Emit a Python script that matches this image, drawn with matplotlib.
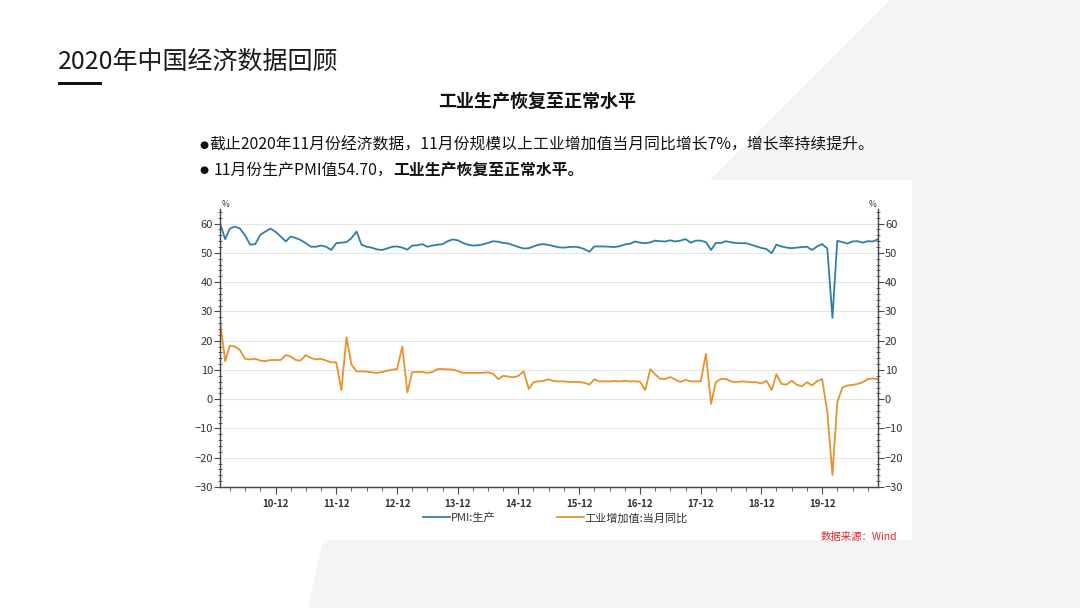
import matplotlib
matplotlib.use('Agg')
import matplotlib.pyplot as plt
import matplotlib.dates as mdates
from matplotlib.ticker import MultipleLocator
from matplotlib.patches import Polygon, Rectangle
import pandas as pd

plt.rcParams['font.family'] = ['Noto Sans CJK SC', 'DejaVu Sans']

# monthly data, 2010-01 .. 2020-11
months = pd.date_range('2010-01-01', '2020-11-01', freq='MS')

pmi_prod = [
    60.2, 54.7, 58.3, 59.0, 58.3, 56.0, 52.8, 53.0, 56.2, 57.3, 58.3, 57.2,
    55.6, 53.9, 55.6, 55.1, 54.4, 53.3, 52.1, 52.1, 52.5, 52.1, 51.0, 53.3,
    53.5, 53.7, 55.0, 57.3, 52.8, 52.1, 51.8, 51.2, 51.0, 51.5, 52.1, 52.2,
    51.8, 51.1, 52.5, 52.6, 53.0, 52.1, 52.5, 52.8, 53.0, 54.0, 54.6, 54.3,
    53.4, 52.8, 52.5, 52.6, 52.9, 53.4, 54.0, 53.8, 53.4, 53.2, 52.6, 52.0,
    51.5, 51.6, 52.2, 52.8, 53.0, 52.7, 52.3, 51.9, 51.8, 52.0, 52.1, 51.9,
    51.3, 50.4, 52.2, 52.2, 52.2, 52.1, 52.0, 52.3, 52.9, 53.1, 53.9, 53.5,
    53.3, 53.6, 54.2, 54.0, 53.9, 54.3, 53.9, 54.2, 54.7, 53.5, 54.2, 54.2,
    53.7, 51.0, 53.4, 53.4, 54.0, 53.6, 53.4, 53.3, 53.3, 52.8, 52.2, 51.7,
    51.3, 49.9, 52.8, 52.2, 51.8, 51.6, 51.8, 52.0, 52.1, 51.0, 52.2, 53.0,
    51.5, 27.8, 54.1, 53.7, 53.2, 53.9, 54.0, 53.5, 54.0, 53.9, 54.7,
]

iva_yoy = [
    26.9, 13.0, 18.3, 18.0, 16.8, 13.8, 13.6, 13.8, 13.2, 13.0, 13.4, 13.4,
    13.4, 15.1, 14.6, 13.4, 13.2, 15.1, 14.1, 13.6, 13.8, 13.2, 12.6, 12.6,
    3.1, 21.2, 11.9, 9.5, 9.5, 9.4, 9.2, 9.0, 9.3, 9.7, 10.1, 10.3,
    18.0, 2.3, 9.2, 9.3, 9.3, 9.0, 9.3, 10.3, 10.3, 10.2, 10.1, 9.6,
    9.0, 9.0, 9.0, 9.0, 9.0, 9.2, 8.7, 6.9, 8.0, 7.7, 7.5, 8.0,
    9.5, 3.5, 5.8, 6.1, 6.3, 6.8, 6.2, 6.1, 6.1, 5.9, 5.9, 5.9,
    5.6, 5.0, 6.8, 6.1, 6.1, 6.1, 6.2, 6.1, 6.3, 6.1, 6.1, 6.0,
    3.1, 10.3, 8.5, 7.0, 6.9, 7.6, 6.7, 5.9, 6.6, 6.1, 6.1, 6.1,
    15.5, -1.6, 5.8, 6.9, 6.9, 6.1, 5.8, 6.1, 6.0, 5.8, 5.8, 5.4,
    6.3, 3.1, 8.6, 5.2, 5.0, 6.3, 5.0, 4.4, 5.8, 4.7, 6.2, 6.9,
    -4.3, -25.9, -1.1, 4.0, 4.7, 4.9, 5.2, 5.8, 6.9, 7.1, 6.9,
]

series_names = ['PMI:生产', '工业增加值:当月同比']
blue = '#2f7ea6'
orange = '#e8922b'

fig = plt.figure(figsize=(10.8, 6.08), dpi=100)

# slide background
bg = fig.add_axes([0, 0, 1, 1], zorder=0)
bg.set_xlim(0, 1080)
bg.set_ylim(608, 0)
bg.axis('off')
bg.add_patch(Polygon([(890, 0), (1080, 0), (1080, 608), (308, 608), (322, 545), (700, 190)],
                     closed=True, facecolor='#f3f4f4', edgecolor='none'))
bg.add_patch(Rectangle((190, 180), 722, 360, facecolor='white', edgecolor='none'))

bg.text(58, 62, '2020年中国经济数据回顾', fontsize=18, color='#1a1a1a', va='center', ha='left')
bg.add_patch(Rectangle((58, 82), 44, 3, facecolor='#111111', edgecolor='none'))
bg.text(537, 101, '工业生产恢复至正常水平', fontsize=13, fontweight='bold',
        color='#111111', va='center', ha='center')

# bullets: small dot + text
bg.text(199, 145, '●', fontsize=7.5, family='DejaVu Sans', color='#111111', va='center', ha='left')
bg.text(209, 145, '截止2020年11月份经济数据，11月份规模以上工业增加值当月同比增长7%，增长率持续提升。',
        fontsize=11.4, color='#111111', va='center', ha='left')
bg.text(199, 170, '●', fontsize=7.5, family='DejaVu Sans', color='#111111', va='center', ha='left')
t2 = bg.text(214, 170, '11月份生产PMI值54.70，', fontsize=11.4, color='#111111',
             va='center', ha='left')
fig.canvas.draw()
x_end = t2.get_window_extent(fig.canvas.get_renderer()).x1
bg.text(x_end, 170, '工业生产恢复至正常水平。', fontsize=11.4, fontweight='bold',
        color='#111111', va='center', ha='left')

bg.text(897, 537, '数据来源：Wind', fontsize=7.5, color='#e3262a', style='italic',
        va='center', ha='right')

# chart
ax = fig.add_axes([220 / 1080, 1 - 487 / 608, 658 / 1080, 278 / 608], zorder=2)
ax.patch.set_alpha(0)
ax.plot(months, pmi_prod, color=blue, lw=1.3, label=series_names[0])
ax.plot(months, iva_yoy, color=orange, lw=1.3, label=series_names[1])

ax.set_xlim(months[0], months[-1])
ax.set_ylim(-30, 65)
ax.set_yticks(range(-30, 61, 10))
ax.yaxis.set_minor_locator(MultipleLocator(2))
ax.grid(axis='y', color='#e6e6e6', lw=0.8)
ax.set_axisbelow(True)

ax.xaxis.set_major_locator(mdates.MonthLocator(bymonth=12))
ax.xaxis.set_minor_locator(mdates.MonthLocator(bymonth=[3, 6, 9, 12]))
ax.xaxis.set_major_formatter(mdates.DateFormatter('%y-%m'))

ax2 = ax.twinx()
ax2.set_ylim(-30, 65)
ax2.set_yticks(range(-30, 61, 10))
ax2.yaxis.set_minor_locator(MultipleLocator(2))

spine_c = '#4a4a4a'
for a in (ax, ax2):
    for s in a.spines.values():
        s.set_color(spine_c)
        s.set_linewidth(0.9)
    a.spines['top'].set_visible(False)
    a.tick_params(axis='y', which='major', direction='out', length=4, width=0.8,
                  colors=spine_c, labelcolor='#333333', labelsize=8, pad=1)
    a.tick_params(axis='y', which='minor', direction='inout', length=3, width=0.6, colors=spine_c)
ax.tick_params(axis='x', which='major', direction='out', length=5, width=0.8,
               colors=spine_c, labelcolor='#333333', labelsize=7)
ax.tick_params(axis='x', which='minor', direction='out', length=3, width=0.6, colors=spine_c)
for lbl in ax.get_xticklabels():
    lbl.set_fontweight('bold')

ax.text(0.003, 1.0, '%', transform=ax.transAxes, fontsize=6, color='#333333', ha='left', va='bottom')
ax.text(0.997, 1.0, '%', transform=ax.transAxes, fontsize=6, color='#333333', ha='right', va='bottom')

leg = ax.legend(loc='center', bbox_to_anchor=(0.51, -0.112), ncol=2, frameon=False,
                fontsize=8, handlelength=2.4, handletextpad=0.05, columnspacing=5.6)
for txt in leg.get_texts():
    txt.set_color('#333333')

fig.savefig('out.png', dpi=100, facecolor='white')
